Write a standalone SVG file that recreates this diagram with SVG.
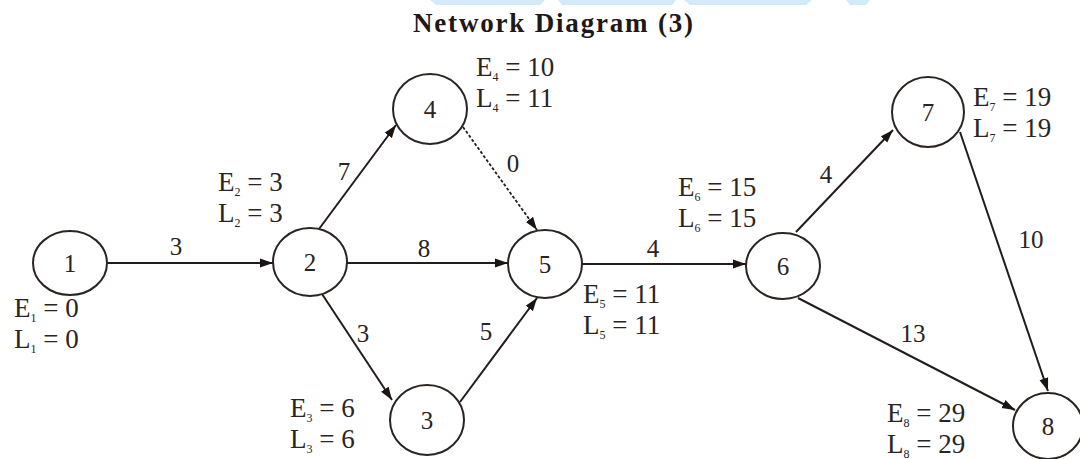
<svg xmlns="http://www.w3.org/2000/svg" width="1080" height="459" viewBox="0 0 1080 459">
<defs>
<style>
.node ellipse{fill:#fff;stroke:#2a2422;stroke-width:2}
.num{font-family:"Liberation Serif","Times New Roman",serif;font-size:25px;fill:#2a2422;text-anchor:middle}
.lbl{font-family:"Liberation Serif","Times New Roman",serif;font-size:27px;fill:#2a2422}
.sub{font-size:12px}
.w{font-family:"Liberation Serif","Times New Roman",serif;font-size:25px;fill:#2a2422;text-anchor:middle}
.edge{stroke:#221c1a;stroke-width:2;fill:none;marker-end:url(#arr)}
.dot{stroke-dasharray:3 2;stroke-width:1.8}
.wm{fill:#d3eaf9}
</style>
<marker id="arr" markerUnits="userSpaceOnUse" markerWidth="14" markerHeight="10" refX="13" refY="5" orient="auto">
<path d="M0,0.5 L13,5 L0,9.5 z" fill="#1a1412"/>
</marker>
</defs>
<rect width="1080" height="459" fill="#fff"/>
<g id="watermark">
<polygon class="wm" points="430,0 545,0 540,5 436,5"/>
<polygon class="wm" points="558,0 676,0 672,5 562,5"/>
<polygon class="wm" points="684,0 812,0 806,5 690,5"/>
<polygon class="wm" points="846,0 870,0 866,5 850,5"/>
</g>
<text x="553" y="32" font-family="Liberation Serif,'Times New Roman',serif" font-weight="bold" font-size="27" fill="#1e1816" text-anchor="middle" textLength="280" lengthAdjust="spacing">Network Diagram (3)</text>
<g id="connectors">
<path class="edge" d="M107,263 L273,263"/>
<path class="edge" d="M319,229 L396,125"/>
<path class="edge dot" d="M463,127 L537,230"/>
<path class="edge" d="M347,263 L508,263"/>
<path class="edge" d="M322,294 L392,400"/>
<path class="edge" d="M460,402 L537,298"/>
<path class="edge" d="M582,264 L746,264"/>
<path class="edge" d="M796,232 L893,130"/>
<path class="edge" d="M960,132 L1048,391"/>
<path class="edge" d="M798,298 L1015,410"/>
<text class="w" x="176" y="255">3</text>
<text class="w" x="344" y="180">7</text>
<text class="w" x="513" y="172">0</text>
<text class="w" x="424" y="257">8</text>
<text class="w" x="363" y="342">3</text>
<text class="w" x="486" y="340">5</text>
<text class="w" x="653" y="257">4</text>
<text class="w" x="826" y="183">4</text>
<text class="w" x="1031" y="248">10</text>
<text class="w" x="913" y="342">13</text>
</g>
<g id="n1" class="node"><ellipse cx="70" cy="263" rx="37" ry="32"/><text class="num" x="70" y="272">1</text>
<text class="lbl" x="14" y="317">E<tspan class="sub" dy="5">1</tspan><tspan dy="-5"> = 0</tspan></text>
<text class="lbl" x="14" y="348">L<tspan class="sub" dy="5">1</tspan><tspan dy="-5"> = 0</tspan></text></g>
<g id="n2" class="node"><ellipse cx="310" cy="262" rx="37" ry="34"/><text class="num" x="310" y="271">2</text>
<text class="lbl" x="218" y="191">E<tspan class="sub" dy="5">2</tspan><tspan dy="-5"> = 3</tspan></text>
<text class="lbl" x="218" y="222">L<tspan class="sub" dy="5">2</tspan><tspan dy="-5"> = 3</tspan></text></g>
<g id="n4" class="node"><ellipse cx="430" cy="109" rx="37" ry="35"/><text class="num" x="430" y="118">4</text>
<text class="lbl" x="476" y="76">E<tspan class="sub" dy="5">4</tspan><tspan dy="-5"> = 10</tspan></text>
<text class="lbl" x="476" y="107">L<tspan class="sub" dy="5">4</tspan><tspan dy="-5"> = 11</tspan></text></g>
<g id="n5" class="node"><ellipse cx="545" cy="264" rx="37" ry="34"/><text class="num" x="545" y="273">5</text>
<text class="lbl" x="583" y="303">E<tspan class="sub" dy="5">5</tspan><tspan dy="-5"> = 11</tspan></text>
<text class="lbl" x="583" y="334">L<tspan class="sub" dy="5">5</tspan><tspan dy="-5"> = 11</tspan></text></g>
<g id="n3" class="node"><ellipse cx="427" cy="420" rx="37" ry="35"/><text class="num" x="427" y="429">3</text>
<text class="lbl" x="290" y="417">E<tspan class="sub" dy="5">3</tspan><tspan dy="-5"> = 6</tspan></text>
<text class="lbl" x="290" y="448">L<tspan class="sub" dy="5">3</tspan><tspan dy="-5"> = 6</tspan></text></g>
<g id="n6" class="node"><ellipse cx="783" cy="266" rx="37" ry="33"/><text class="num" x="783" y="275">6</text>
<text class="lbl" x="678" y="196">E<tspan class="sub" dy="5">6</tspan><tspan dy="-5"> = 15</tspan></text>
<text class="lbl" x="678" y="227">L<tspan class="sub" dy="5">6</tspan><tspan dy="-5"> = 15</tspan></text></g>
<g id="n7" class="node"><ellipse cx="928" cy="112" rx="36" ry="35"/><text class="num" x="928" y="121">7</text>
<text class="lbl" x="973" y="106">E<tspan class="sub" dy="5">7</tspan><tspan dy="-5"> = 19</tspan></text>
<text class="lbl" x="973" y="137">L<tspan class="sub" dy="5">7</tspan><tspan dy="-5"> = 19</tspan></text></g>
<g id="n8" class="node"><ellipse cx="1048" cy="426" rx="35" ry="33"/><text class="num" x="1048" y="435">8</text>
<text class="lbl" x="887" y="422">E<tspan class="sub" dy="5">8</tspan><tspan dy="-5"> = 29</tspan></text>
<text class="lbl" x="887" y="453">L<tspan class="sub" dy="5">8</tspan><tspan dy="-5"> = 29</tspan></text></g>
</svg>
